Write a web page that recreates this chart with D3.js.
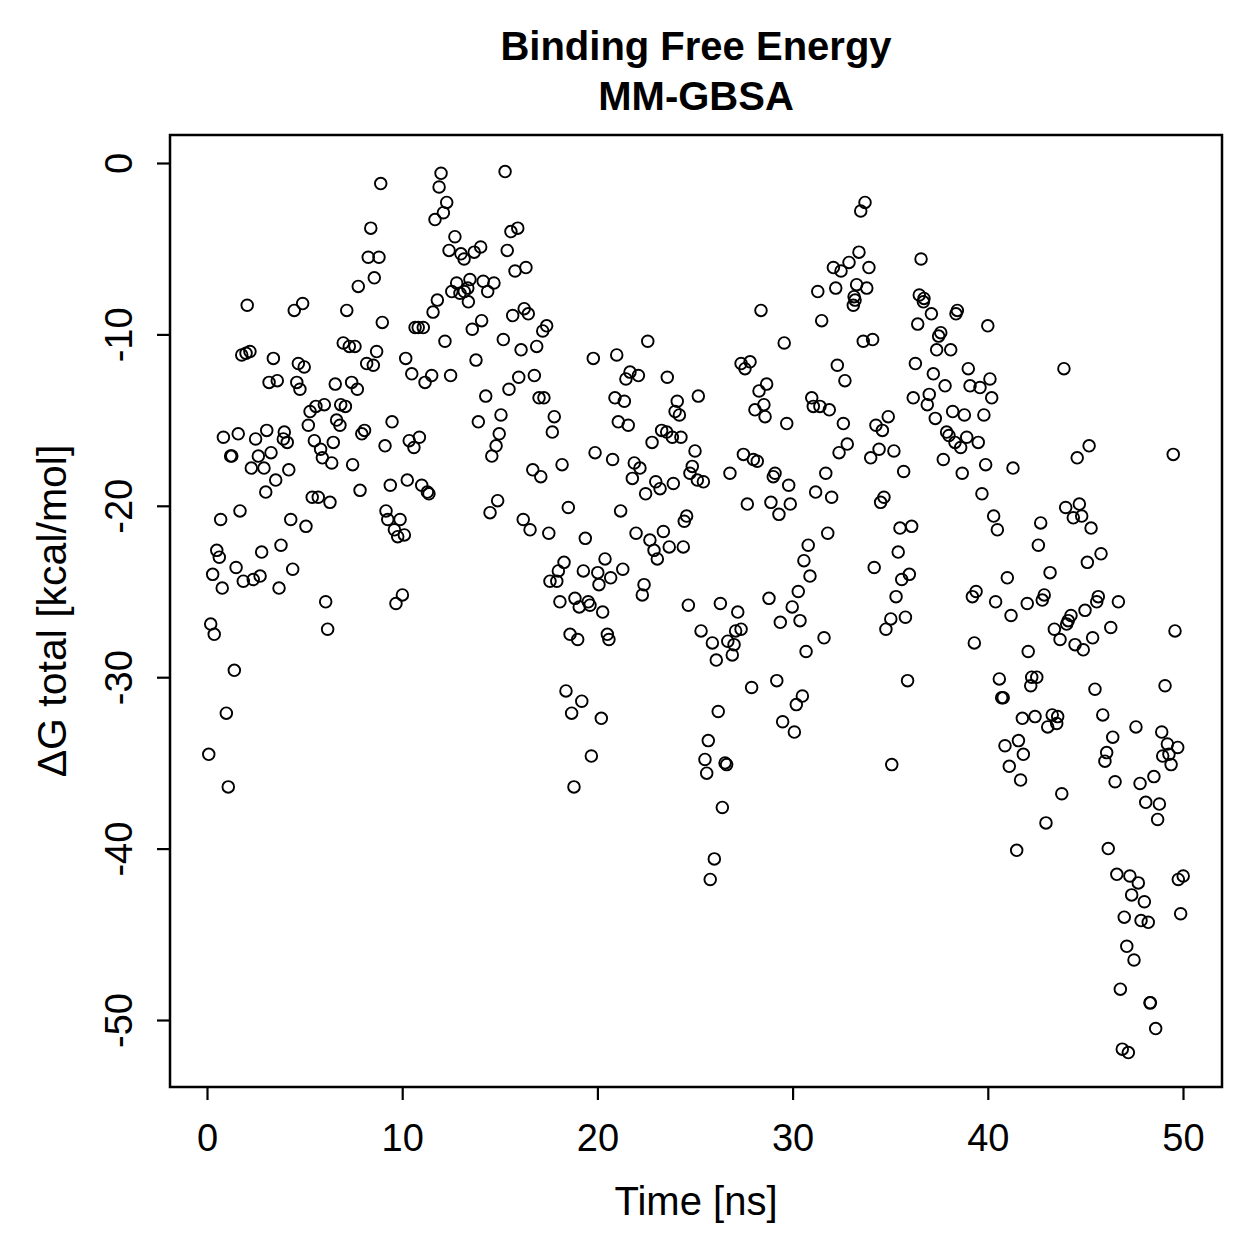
<!DOCTYPE html>
<html>
<head>
<meta charset="utf-8">
<script src="https://cdn.jsdelivr.net/npm/d3@7"></script>
<style>
  body { margin: 0; background: #fff; }
  svg { display: block; font-family: "Liberation Sans", Arial, Helvetica, sans-serif; }
</style>
</head>
<body>
<svg width="1259" height="1259"></svg>
<script>
// time in ns
let timeNs = [
  0.09,0.19,0.29,0.37,0.50,0.63,0.70,0.78,0.84,0.99,1.09,1.21,1.27,1.40,1.49,1.60,1.69,1.78,1.86,2.00,
  2.06,2.20,2.27,2.37,2.49,2.63,2.72,2.80,2.92,3.01,3.06,3.18,3.28,3.40,3.52,3.60,3.69,3.79,3.91,3.96,
  4.11,4.19,4.29,4.39,4.47,4.60,4.68,4.76,4.90,4.98,5.07,5.19,5.28,5.39,5.50,5.58,5.70,5.82,5.91,6.01,
  6.08,6.18,6.30,6.39,6.47,6.57,6.64,6.81,6.85,6.98,7.09,7.16,7.29,7.41,7.46,7.58,7.70,7.75,7.84,7.93,
  8.07,8.18,8.26,8.39,8.52,8.57,8.69,8.81,8.90,8.98,9.12,9.17,9.26,9.39,9.48,9.60,9.68,9.77,9.89,10.01,
  10.11,10.18,10.26,10.36,10.49,10.60,10.66,10.82,10.88,11.00,11.08,11.17,11.29,11.37,11.51,11.58,11.68,11.80,11.89,11.99,
  12.11,12.19,12.28,12.40,12.48,12.54,12.70,12.79,12.96,13.01,13.17,13.18,13.36,13.39,13.47,13.59,13.69,13.78,13.90,14.02,
  14.07,14.15,14.28,14.38,14.50,14.59,14.70,14.81,14.89,14.97,15.06,15.18,15.27,15.38,15.47,15.57,15.66,15.78,15.92,15.97,
  16.09,16.20,16.25,16.34,16.46,16.55,16.69,16.77,16.89,17.01,17.10,17.20,17.26,17.40,17.51,17.57,17.69,17.79,17.92,18.00,
  18.08,18.19,18.29,18.39,18.51,18.60,18.68,18.80,18.85,18.99,19.07,19.20,19.28,19.38,19.53,19.62,19.69,19.79,19.88,20.02,
  20.08,20.20,20.27,20.39,20.51,20.59,20.68,20.78,20.90,20.99,21.07,21.19,21.30,21.38,21.46,21.58,21.67,21.79,21.89,21.98,
  22.10,22.18,22.30,22.39,22.47,22.58,22.69,22.80,22.90,22.99,23.07,23.21,23.29,23.38,23.55,23.58,23.68,23.84,23.89,23.98,
  24.09,24.20,24.28,24.40,24.45,24.57,24.66,24.74,24.86,25.00,25.12,25.17,25.31,25.43,25.51,25.60,25.68,25.78,25.89,25.99,
  26.09,26.19,26.30,26.40,26.54,26.62,26.68,26.79,26.91,27.00,27.08,27.19,27.36,27.36,27.48,27.56,27.68,27.82,27.90,27.99,
  28.07,28.19,28.28,28.38,28.53,28.59,28.67,28.79,28.89,29.01,29.10,29.19,29.30,29.37,29.49,29.57,29.70,29.80,29.88,29.98,
  30.09,30.19,30.29,30.38,30.50,30.58,30.69,30.80,30.89,30.98,31.06,31.18,31.29,31.40,31.49,31.61,31.70,31.80,31.88,32.00,
  32.09,32.21,32.29,32.38,32.48,32.60,32.68,32.80,32.89,33.11,33.15,33.20,33.28,33.40,33.49,33.62,33.71,33.80,33.91,34.00,
  34.10,34.18,34.27,34.43,34.51,34.60,34.68,34.78,34.90,35.03,35.08,35.19,35.30,35.41,35.50,35.59,35.69,35.78,35.89,35.98,
  36.10,36.18,36.29,36.41,36.49,36.58,36.70,36.73,36.90,37.00,37.11,37.21,37.31,37.38,37.48,37.59,37.72,37.81,37.89,38.01,
  38.10,38.20,38.32,38.37,38.44,38.61,38.69,38.80,38.92,39.00,39.09,39.21,39.31,39.40,39.51,39.60,39.70,39.80,39.89,40.00,
  40.11,40.20,40.30,40.40,40.49,40.59,40.71,40.79,40.88,41.00,41.10,41.19,41.29,41.48,41.57,41.68,41.77,41.82,42.02,42.07,
  42.20,42.25,42.42,42.51,42.59,42.71,42.79,42.89,42.98,43.07,43.19,43.30,43.41,43.53,43.58,43.70,43.79,43.90,43.99,44.04,
  44.12,44.26,44.38,44.47,44.58,44.69,44.81,44.89,44.98,45.10,45.19,45.29,45.37,45.49,45.58,45.66,45.80,45.89,46.00,46.09,
  46.17,46.30,46.40,46.52,46.61,46.69,46.79,46.89,46.99,47.12,47.20,47.28,47.37,47.49,47.59,47.71,47.80,47.85,48.02,48.09,
  48.22,48.31,48.33,48.51,48.60,48.70,48.79,48.91,48.96,49.08,49.20,49.28,49.39,49.50,49.59,49.73,49.76,49.88,50.01
];

// delta G total in kcal/mol, same order as timeNs
let dGTotal = [
  -34.5,-26.9,-24.0,-27.5,-22.6,-23.0,-20.8,-24.8,-16.0,-32.1,-36.4,-17.1,-17.1,-29.6,-23.6,-15.8,-20.3,-11.2,-24.4,-11.1,
  -8.3,-11.0,-17.8,-24.3,-16.1,-17.1,-24.1,-22.7,-17.8,-19.2,-15.6,-12.8,-16.9,-11.4,-18.5,-12.7,-24.8,-22.3,-16.1,-15.7,
  -16.3,-17.9,-20.8,-23.7,-8.6,-12.8,-11.7,-13.2,-8.2,-11.9,-21.2,-15.3,-14.5,-19.5,-16.2,-14.2,-19.5,-16.7,-17.2,-14.1,
  -25.6,-27.2,-19.8,-17.5,-16.3,-12.9,-15.0,-15.3,-14.1,-10.5,-14.2,-8.6,-10.7,-12.8,-17.6,-10.7,-13.2,-7.2,-19.1,-15.8,
  -15.6,-11.7,-5.5,-3.8,-11.8,-6.7,-11.0,-5.5,-1.2,-9.3,-16.5,-20.3,-20.8,-18.8,-15.1,-21.4,-25.7,-21.8,-20.8,-25.2,
  -21.7,-11.4,-18.5,-16.2,-12.3,-16.6,-9.6,-9.6,-16.0,-18.8,-9.6,-12.8,-19.2,-19.3,-12.4,-8.7,-3.3,-8.0,-1.4,-0.6,
  -2.9,-10.4,-2.3,-5.1,-12.4,-7.5,-4.3,-7.0,-7.6,-5.3,-5.6,-7.5,-7.3,-8.1,-6.8,-9.7,-5.2,-11.5,-15.1,-4.9,
  -9.2,-6.9,-13.6,-7.5,-20.4,-17.1,-7.0,-16.5,-19.7,-15.8,-14.7,-10.3,-0.5,-5.1,-13.2,-4.0,-8.9,-6.3,-3.8,-12.5,
  -10.9,-20.8,-8.5,-6.1,-8.8,-21.4,-17.9,-12.4,-10.7,-13.7,-18.3,-9.8,-13.7,-9.5,-21.6,-24.4,-15.7,-14.8,-24.4,-23.8,
  -25.6,-17.6,-23.3,-30.8,-20.1,-27.5,-32.1,-36.4,-25.4,-27.8,-25.9,-31.4,-23.8,-21.9,-25.6,-25.8,-34.6,-11.4,-16.9,-23.9,
  -24.6,-32.4,-26.2,-23.1,-27.5,-27.8,-24.2,-17.3,-13.7,-11.2,-15.1,-20.3,-23.7,-13.9,-12.6,-15.3,-12.2,-18.4,-17.5,-21.6,
  -12.4,-17.8,-25.2,-24.6,-19.3,-10.4,-22.0,-16.3,-22.6,-18.6,-23.1,-19.0,-15.6,-21.5,-15.7,-12.5,-22.4,-16.0,-18.7,-14.5,
  -13.9,-14.7,-16.0,-22.4,-20.9,-20.6,-25.8,-18.1,-17.7,-16.8,-18.5,-13.6,-27.3,-18.6,-34.8,-35.6,-33.7,-41.8,-28.0,-40.6,
  -29.0,-32.0,-25.7,-37.6,-35.0,-35.1,-27.9,-18.1,-28.7,-28.1,-27.3,-26.2,-27.2,-11.7,-17.0,-12.0,-19.9,-11.6,-30.6,-17.3,
  -14.4,-17.4,-13.3,-8.6,-14.1,-14.8,-12.9,-25.4,-19.8,-18.3,-18.1,-30.2,-20.5,-26.8,-32.6,-10.5,-15.2,-18.8,-19.9,-25.9,
  -33.2,-31.6,-25.0,-26.7,-31.1,-23.2,-28.5,-22.3,-24.1,-13.7,-14.2,-19.2,-7.5,-14.2,-9.2,-27.7,-18.1,-21.6,-14.4,-19.5,
  -6.1,-7.3,-11.8,-16.9,-6.3,-15.2,-12.7,-16.4,-5.8,-8.3,-7.8,-8.0,-7.1,-5.2,-2.8,-10.4,-2.3,-7.3,-6.1,-17.2,
  -10.3,-23.6,-15.3,-16.7,-19.8,-15.6,-19.5,-27.2,-14.8,-26.6,-35.1,-16.8,-25.3,-22.7,-21.3,-24.3,-18.0,-26.5,-30.2,-24.0,
  -21.2,-13.7,-11.7,-9.4,-7.7,-5.6,-8.1,-7.9,-14.1,-13.5,-8.8,-12.3,-14.9,-10.9,-10.1,-9.9,-17.3,-13.0,-15.7,-15.9,
  -10.9,-14.5,-16.3,-8.8,-8.6,-16.6,-18.1,-14.7,-16.0,-12.0,-13.0,-25.3,-28.0,-25.0,-16.3,-13.1,-19.3,-14.7,-17.6,-9.5,
  -12.6,-13.7,-20.6,-25.6,-21.4,-30.1,-31.2,-31.2,-34.0,-24.2,-35.2,-26.4,-17.8,-40.1,-33.7,-36.0,-32.4,-34.5,-25.7,-28.5,
  -30.5,-30.0,-32.3,-30.0,-22.3,-21.0,-25.5,-25.2,-38.5,-32.9,-23.9,-32.2,-27.2,-32.7,-32.3,-27.8,-36.8,-12.0,-20.1,-26.9,
  -26.7,-26.4,-20.7,-28.1,-17.2,-19.9,-20.6,-28.4,-26.1,-23.3,-16.5,-21.3,-27.7,-30.7,-25.6,-25.3,-22.8,-32.2,-34.9,-34.4,
  -40.0,-27.1,-33.5,-36.1,-41.5,-25.6,-48.2,-51.7,-44.0,-45.7,-51.9,-41.6,-42.7,-46.5,-32.9,-42.0,-36.2,-44.2,-43.1,-37.3,
  -44.3,-49.0,-49.0,-35.8,-50.5,-38.3,-37.4,-33.2,-34.6,-30.5,-33.9,-34.5,-35.1,-17.0,-27.3,-34.1,-41.8,-43.8,-41.6
];

let xTicks = [0, 10, 20, 30, 40, 50];
let yTicks = [0, -10, -20, -30, -40, -50];
let titleLines = ["Binding Free Energy", "MM-GBSA"];
let xLabel = "Time [ns]";
let yLabel = "\u0394G total [kcal/mol]";

let svg = d3.select("svg"),
    width = +svg.attr("width"),
    height = +svg.attr("height");

let box = {left: 170, right: 1222, top: 135, bottom: 1087};

let x = d3.scaleLinear().domain([0, 50]).range([207, 1183]);
let y = d3.scaleLinear().domain([0, -50]).range([163, 1020]);

// R prints a plain hyphen for negatives
let plain = d => String(d);

let points = timeNs.map((t, i) => ({t: t, g: dGTotal[i]}));

// points
svg.append("g")
    .selectAll("circle")
    .data(points)
    .enter().append("circle")
        .attr("cx", d => x(d.t))
        .attr("cy", d => y(d.g))
        .attr("r", 5.8)
        .attr("fill", "none")
        .attr("stroke", "#000")
        .attr("stroke-width", 1.9);

// box
svg.append("rect")
    .attr("x", box.left)
    .attr("y", box.top)
    .attr("width", box.right - box.left)
    .attr("height", box.bottom - box.top)
    .attr("fill", "none")
    .attr("stroke", "#000")
    .attr("stroke-width", 2.5);

// x axis
let gx = svg.append("g")
    .attr("transform", "translate(0," + box.bottom + ")")
    .call(d3.axisBottom(x).tickValues(xTicks).tickFormat(plain).tickSize(13).tickPadding(24));
gx.select(".domain").remove();
gx.selectAll("line").attr("stroke-width", 2.2);
gx.selectAll("text").attr("font-size", 38).attr("fill", "#000").attr("font-family", null);

// y axis, labels turned like R
let gy = svg.append("g")
    .attr("transform", "translate(" + box.left + ",0)")
    .call(d3.axisLeft(y).tickValues(yTicks).tickFormat(plain).tickSize(13));
gy.select(".domain").remove();
gy.selectAll("line").attr("stroke-width", 2.2);
gy.selectAll("text")
    .attr("x", null)
    .attr("dy", null)
    .attr("text-anchor", "middle")
    .attr("transform", "translate(-38,0) rotate(-90)")
    .attr("font-size", 38)
    .attr("fill", "#000")
    .attr("font-family", null);

// title
svg.append("g")
    .selectAll("text")
    .data(titleLines)
    .enter().append("text")
        .attr("x", (box.left + box.right) / 2)
        .attr("y", (d, i) => 60 + i * 50)
        .attr("text-anchor", "middle")
        .attr("font-weight", "bold")
        .attr("font-size", 40)
        .text(d => d);

svg.append("text")
    .attr("x", (box.left + box.right) / 2)
    .attr("y", 1215)
    .attr("text-anchor", "middle")
    .attr("font-size", 40)
    .text(xLabel);

svg.append("text")
    .attr("transform", "translate(66," + (box.top + box.bottom) / 2 + ") rotate(-90)")
    .attr("text-anchor", "middle")
    .attr("font-size", 41)
    .text(yLabel);
</script>
</body>
</html>
